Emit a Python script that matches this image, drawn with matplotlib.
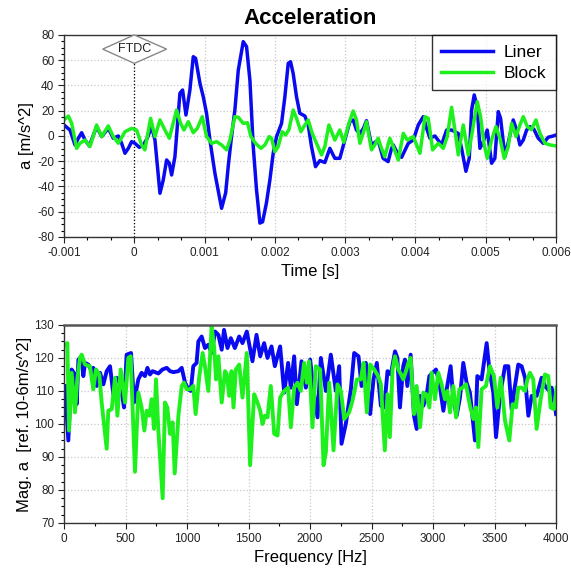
import numpy as np
import matplotlib
matplotlib.use('Agg')
import matplotlib.pyplot as plt
from matplotlib.patches import Polygon
from matplotlib.ticker import AutoMinorLocator, FixedLocator, FixedFormatter

plt.rcParams['font.family'] = ['Liberation Sans', 'DejaVu Sans']
plt.rcParams['axes.unicode_minus'] = False

#%% Datos - aceleracion en el tiempo (t en ms)
liner_t_ms = [-1.0, -0.915, -0.844, -0.796, -0.749, -0.701, -0.640, -0.536, -0.464, -0.370,
              -0.299, -0.227, -0.180, -0.133, -0.085, -0.038, 0.009, 0.071, 0.128, 0.185,
              0.246, 0.294, 0.365, 0.412, 0.460, 0.498, 0.531, 0.578, 0.649, 0.687,
              0.735, 0.791, 0.839, 0.872, 0.934, 0.981, 1.028, 1.076, 1.147, 1.242,
              1.30, 1.34, 1.38, 1.431, 1.479, 1.55, 1.597, 1.645, 1.692, 1.739,
              1.787, 1.825, 1.88, 1.929, 1.976, 2.024, 2.095, 2.142, 2.19, 2.223,
              2.26, 2.308, 2.355, 2.427, 2.474, 2.521, 2.578, 2.64, 2.711, 2.782,
              2.853, 2.924, 2.995, 3.066, 3.114, 3.161, 3.21, 3.26, 3.303, 3.374,
              3.469, 3.54, 3.611, 3.66, 3.684, 3.756, 3.803, 3.898, 3.969, 4.04,
              4.111, 4.159, 4.206, 4.277, 4.372, 4.443, 4.514, 4.609, 4.656, 4.718,
              4.765, 4.799, 4.836, 4.879, 4.917, 4.965, 5.021, 5.083, 5.13, 5.178,
              5.211, 5.273, 5.334, 5.391, 5.439, 5.486, 5.534, 5.581, 5.628, 5.685,
              5.747, 5.818, 5.889, 5.96, 6.0]
liner_a = [8.7, 4.7, -7.1, -1.8, 2.6, -3.2, -7.9, 7.4, -0.5, 6.1,
           -1.8, 0.0, -5.8, -13.7, -9.8, -4.5, -5.8, -9.0, -7.1, -1.8,
           7.4, -3.2, -45.4, -34.8, -19.0, -21.6, -30.9, -16.4, 33.8, 36.4,
           16.6, 36.4, 62.8, 61.5, 41.7, 31.1, 17.9, -3.2, -29.6, -57.3,
           -45.0, -22.0, -2.0, 20.6, 52.0, 74.7, 70.7, 44.0, -8.4, -42.7,
           -69.0, -68.0, -53.0, -34.8, -13.7, -0.5, 10.0, 31.0, 57.5, 58.8,
           49.6, 31.0, 18.0, 15.8, 8.7, -8.4, -24.3, -19.5, -21.0, -9.8,
           -17.7, -17.7, -3.2, 11.3, 12.7, 4.7, 2.0, 6.0, 12.1, -7.1,
           -3.2, -17.7, -20.3, -9.8, -7.1, -15.0, -16.9, -5.8, -3.2, 8.7,
           15.3, 6.0, -1.8, 0.0, -7.0, 4.7, 4.7, 2.0, -9.8, -28.0,
           -17.7, 20.6, 32.5, 23.0, -9.8, -4.5, 4.7, -21.6, -17.7, 19.3,
           14.0, -16.4, -1.8, 12.7, 4.7, -7.1, -3.2, 4.7, 7.4, 5.3,
           -1.8, -5.8, -1.0, 0.0, 0.8]

block_t_ms = [-1.0, -0.938, -0.891, -0.82, -0.773, -0.701, -0.63, -0.536, -0.464, -0.37,
              -0.299, -0.227, -0.133, -0.038, 0.033, 0.104, 0.15, 0.232, 0.294, 0.365,
              0.436, 0.498, 0.602, 0.659, 0.706, 0.768, 0.839, 0.896, 0.967, 1.028,
              1.1, 1.171, 1.242, 1.313, 1.36, 1.431, 1.479, 1.55, 1.611, 1.659,
              1.725, 1.801, 1.858, 1.919, 1.953, 2.0, 2.047, 2.104, 2.152, 2.2,
              2.261, 2.308, 2.37, 2.427, 2.474, 2.531, 2.592, 2.664, 2.711, 2.768,
              2.815, 2.853, 2.924, 2.98, 3.052, 3.114, 3.161, 3.209, 3.256, 3.303,
              3.374, 3.422, 3.469, 3.517, 3.564, 3.635, 3.684, 3.756, 3.827, 3.884,
              3.969, 4.064, 4.135, 4.182, 4.244, 4.324, 4.396, 4.452, 4.514, 4.561,
              4.609, 4.68, 4.751, 4.813, 4.879, 4.927, 4.974, 5.021, 5.083, 5.145,
              5.202, 5.263, 5.32, 5.368, 5.43, 5.477, 5.534, 5.591, 5.65, 5.714,
              5.771, 5.842, 5.913, 6.0]
block_a = [12.7, 15.8, 10.0, -9.8, -5.8, -3.2, -8.4, 8.7, -0.5, 8.0,
           -0.5, -5.8, 3.4, 6.0, 4.7, -7.1, -11.0, 14.0, -0.5, 12.7,
           4.7, -1.8, 20.6, 10.0, 4.7, 11.3, 2.6, 6.0, 15.3, -0.5,
           -5.8, -4.5, -7.1, -11.0, -3.2, 15.3, 14.8, 10.0, 10.5, -0.5,
           -5.8, -9.8, -7.1, -0.5, -1.8, -12.4, -8.4, 3.4, 0.8, 5.0,
           20.6, 14.0, 3.4, 8.7, 12.7, 2.1, -5.8, -15.0, -8.4, 8.7,
           2.1, -3.2, 4.7, -5.0, 10.0, 19.8, 12.7, -5.8, 2.1, 11.3,
           -11.0, -7.1, -1.8, -9.8, -16.4, -1.8, -8.4, -19.0, 2.1, -3.2,
           -0.5, -13.7, 15.3, 14.0, -11.0, -5.8, -9.8, -0.5, 22.7, 4.7,
           -15.0, 8.7, -15.0, 4.7, 27.2, 15.3, -5.8, -17.7, -3.2, 7.4,
           -1.8, -17.7, -8.4, 10.0, -0.5, 7.4, 15.3, 7.4, 5.0, 12.7,
           2.1, -5.8, -7.1, -7.9]

#%% Datos - espectro (f en Hz, magnitud en dB ref. 1e-6 m/s^2)
liner_f = [8, 35, 62, 89, 103, 117, 144, 157, 171, 198,
           225, 238, 266, 293, 320, 347, 374, 401, 428, 455,
           488, 509, 545, 569, 604, 631, 658, 678, 699, 720,
           740, 767, 800, 835, 862, 889, 930, 957, 984, 1011,
           1030, 1051, 1078, 1092, 1119, 1146, 1173, 1200, 1228, 1255,
           1282, 1301, 1329, 1356, 1389, 1424, 1451, 1486, 1532, 1565,
           1595, 1627, 1654, 1687, 1714, 1757, 1790, 1822, 1844, 1871,
           1893, 1931, 1966, 2001, 2028, 2061, 2088, 2129, 2169, 2210,
           2237, 2256, 2291, 2332, 2359, 2394, 2419, 2454, 2489, 2516,
           2543, 2576, 2603, 2630, 2657, 2691, 2710, 2731, 2758, 2772,
           2791, 2818, 2845, 2867, 2894, 2921, 2945, 2970, 2997, 3024,
           3051, 3084, 3111, 3143, 3165, 3192, 3219, 3246, 3273, 3300,
           3341, 3360, 3395, 3417, 3436, 3458, 3490, 3512, 3544, 3585,
           3612, 3639, 3666, 3693, 3720, 3748, 3775, 3802, 3842, 3883,
           3910, 3945, 3964, 3991, 4000]
liner_mag = [111.5, 95.0, 116.5, 115.0, 106.0, 119.5, 120.5, 114.5, 118.5, 118.0,
             116.0, 117.0, 111.5, 115.5, 112.0, 116.0, 117.5, 109.0, 114.0, 113.0,
             105.0, 121.0, 121.5, 106.5, 113.5, 115.5, 114.5, 117.0, 115.0, 116.0,
             115.7, 115.3, 116.5, 117.0, 116.0, 115.7, 116.0, 117.0, 112.5, 110.5,
             110.0, 117.5, 118.5, 125.0, 126.5, 123.0, 124.0, 121.5, 128.0, 127.0,
             122.5, 128.5, 123.0, 126.0, 123.0, 126.5, 124.5, 128.0, 119.0, 127.0,
             120.5, 124.5, 120.0, 123.5, 117.5, 123.5, 109.5, 118.5, 111.0, 120.5,
             106.0, 119.0, 111.0, 119.5, 110.5, 102.0, 120.0, 110.0, 121.0, 110.0,
             117.5, 94.0, 100.0, 110.5, 121.5, 120.5, 111.5, 118.5, 103.0, 113.5,
             118.5, 105.5, 105.0, 116.0, 115.0, 122.0, 120.0, 105.0, 117.5, 119.5,
             111.5, 121.0, 102.5, 98.5, 108.5, 105.5, 108.0, 114.5, 115.5, 116.5,
             112.5, 104.0, 110.5, 117.5, 107.5, 102.5, 108.0, 118.5, 112.5, 109.5,
             95.0, 114.5, 113.5, 119.5, 124.5, 116.5, 109.5, 96.0, 108.5, 117.5,
             117.5, 104.5, 111.5, 118.0, 117.5, 114.0, 102.5, 108.5, 108.5, 114.0,
             111.5, 110.0, 111.0, 105.5, 103.0]

block_f = [10, 27, 41, 62, 89, 108, 130, 144, 171, 211,
           238, 260, 287, 306, 347, 360, 388, 415, 434, 461,
           496, 523, 542, 577, 604, 631, 653, 672, 694, 713,
           732, 748, 767, 802, 821, 840, 862, 883, 900, 930,
           957, 976, 997, 1024, 1051, 1070, 1100, 1127, 1146, 1173,
           1200, 1220, 1236, 1255, 1282, 1309, 1324, 1343, 1362, 1378,
           1397, 1424, 1451, 1486, 1513, 1546, 1573, 1595, 1614, 1633,
           1654, 1681, 1709, 1736, 1757, 1790, 1822, 1844, 1871, 1898,
           1925, 1952, 1974, 1993, 2020, 2047, 2082, 2110, 2129, 2156,
           2191, 2223, 2251, 2278, 2318, 2345, 2381, 2413, 2435, 2462,
           2489, 2522, 2554, 2576, 2608, 2630, 2649, 2671, 2691, 2718,
           2740, 2758, 2780, 2799, 2818, 2845, 2867, 2894, 2921, 2945,
           2970, 2989, 3016, 3043, 3070, 3097, 3116, 3138, 3165, 3187,
           3214, 3240, 3268, 3300, 3328, 3349, 3368, 3395, 3430, 3463,
           3495, 3523, 3550, 3585, 3620, 3647, 3674, 3693, 3720, 3748,
           3767, 3788, 3815, 3842, 3875, 3910, 3937, 3956, 3983, 4005]
block_mag = [124.0, 124.5, 98.0, 115.5, 103.5, 113.5, 120.0, 121.0, 118.0, 117.5,
             110.5, 116.5, 115.0, 106.5, 92.5, 104.0, 104.5, 114.0, 102.5, 116.5,
             106.5, 120.0, 120.5, 85.5, 109.5, 105.0, 98.0, 104.0, 102.5, 107.5,
             98.5, 113.5, 98.0, 77.5, 106.5, 105.0, 97.0, 100.5, 85.0, 102.5,
             111.5, 112.5, 110.5, 110.5, 111.5, 103.0, 114.5, 121.5, 117.5, 110.0,
             129.5, 123.5, 113.5, 120.5, 106.5, 116.0, 115.0, 108.5, 116.0, 105.0,
             116.5, 118.0, 108.0, 121.5, 87.5, 109.0, 106.5, 104.0, 100.0, 102.5,
             102.0, 111.5, 97.0, 96.5, 108.0, 110.0, 111.0, 99.0, 111.0, 112.5,
             110.0, 118.5, 112.5, 119.0, 99.0, 117.5, 116.5, 87.5, 91.5, 112.5,
             92.0, 112.0, 110.0, 101.5, 103.5, 107.0, 113.5, 113.5, 118.5, 103.5,
             118.0, 116.5, 114.5, 112.0, 92.0, 109.0, 96.0, 116.5, 120.5, 116.5,
             115.0, 113.5, 116.0, 118.5, 120.0, 103.0, 111.5, 99.0, 109.5, 109.0,
             105.0, 115.5, 107.5, 115.5, 112.0, 107.5, 110.0, 103.5, 111.5, 102.0,
             110.5, 111.0, 112.0, 105.5, 101.5, 105.0, 93.0, 110.5, 111.5, 117.5,
             114.5, 105.0, 114.0, 101.0, 95.0, 106.0, 105.0, 111.0, 111.0, 110.0,
             113.5, 115.5, 113.5, 98.5, 107.5, 115.0, 114.5, 105.0, 104.5, 111.0]

# Ejes / marcas
t_ticks = [-0.001, 0, 0.001, 0.002, 0.003, 0.004, 0.005, 0.006]
t_labels = ['-0.001', '0', '0.001', '0.002', '0.003', '0.004', '0.005', '0.006']
f_ticks = [0, 500, 1000, 1500, 2000, 2500, 3000, 3500, 4000]
ftdc_label = 'FTDC'

azul = '#0a0af0'
verde = '#1ef01e'

#%% Figura
fig = plt.figure(figsize=(5.71, 5.78), dpi=100)
ax1 = fig.add_axes([0.1121, 0.590, 0.8617, 0.3495])
ax2 = fig.add_axes([0.1121, 0.0952, 0.8617, 0.3426])

def estilo(ax):
    ax.grid(True, which='major', color='#c8c8c8', linestyle=':', linewidth=0.9)
    ax.set_axisbelow(True)
    for s in ax.spines.values():
        s.set_color('#333333')
        s.set_linewidth(1.0)
    ax.tick_params(which='major', direction='out', length=4, width=0.8,
                   labelsize=8.5, colors='#222222', pad=3)
    ax.tick_params(which='minor', direction='out', length=2.5, width=0.8)
    ax.yaxis.set_minor_locator(AutoMinorLocator(4))

#%% Aceleracion
t_liner = np.array(liner_t_ms) * 1e-3
t_block = np.array(block_t_ms) * 1e-3

ax1.plot(t_liner, liner_a, color=azul, lw=2.5, label='Liner')
ax1.plot(t_block, block_a, color=verde, lw=2.5, label='Block')

ax1.set_xlim(-0.001, 0.006)
ax1.set_ylim(-80, 80)
ax1.xaxis.set_major_locator(FixedLocator(t_ticks))
ax1.xaxis.set_major_formatter(FixedFormatter(t_labels))
ax1.xaxis.set_minor_locator(AutoMinorLocator(3))
ax1.set_yticks(np.arange(-80, 81, 20))
estilo(ax1)

# marca de FTDC
ax1.plot([0, 0], [-80, 57.5], color='black', lw=0.9, ls=':', zorder=1)
rombo = Polygon([[-0.00045, 68.8], [0, 80], [0.00046, 68.8], [0, 57.5]],
                closed=True, facecolor='white', edgecolor='#888888', lw=1.0,
                zorder=4, clip_on=False)
ax1.add_patch(rombo)
ax1.text(0.00001, 68.8, ftdc_label, ha='center', va='center', fontsize=9,
         color='#222222', zorder=5)

ax1.set_title('Acceleration', fontsize=16, fontweight='bold', pad=8)
ax1.set_xlabel('Time [s]', fontsize=12, labelpad=4)
ax1.set_ylabel('a [m/s^2]', fontsize=12, labelpad=2)

leg = ax1.legend(loc='upper right', fontsize=12.5, frameon=True, fancybox=False,
                 borderaxespad=0, handlelength=3.0, handletextpad=0.6,
                 borderpad=0.55, labelspacing=0.35)
leg.get_frame().set_edgecolor('black')
leg.get_frame().set_linewidth(1.0)
for ln in leg.get_lines():
    ln.set_linewidth(2.5)

#%% Espectro
ax2.plot(liner_f, liner_mag, color=azul, lw=2.8)
ax2.plot(block_f, block_mag, color=verde, lw=2.8)

ax2.set_xlim(0, 4000)
ax2.set_ylim(70, 130)
ax2.set_xticks(f_ticks)
ax2.xaxis.set_minor_locator(AutoMinorLocator(2))
ax2.set_yticks(np.arange(70, 131, 10))
estilo(ax2)
ax2.spines['top'].set_linewidth(1.8)
ax2.spines['top'].set_color('#555555')

ax2.set_xlabel('Frequency [Hz]', fontsize=12, labelpad=4)
ax2.set_ylabel('Mag. a  [ref. 10-6m/s^2]', fontsize=12, labelpad=2)

plt.savefig('out.png', dpi=100)
